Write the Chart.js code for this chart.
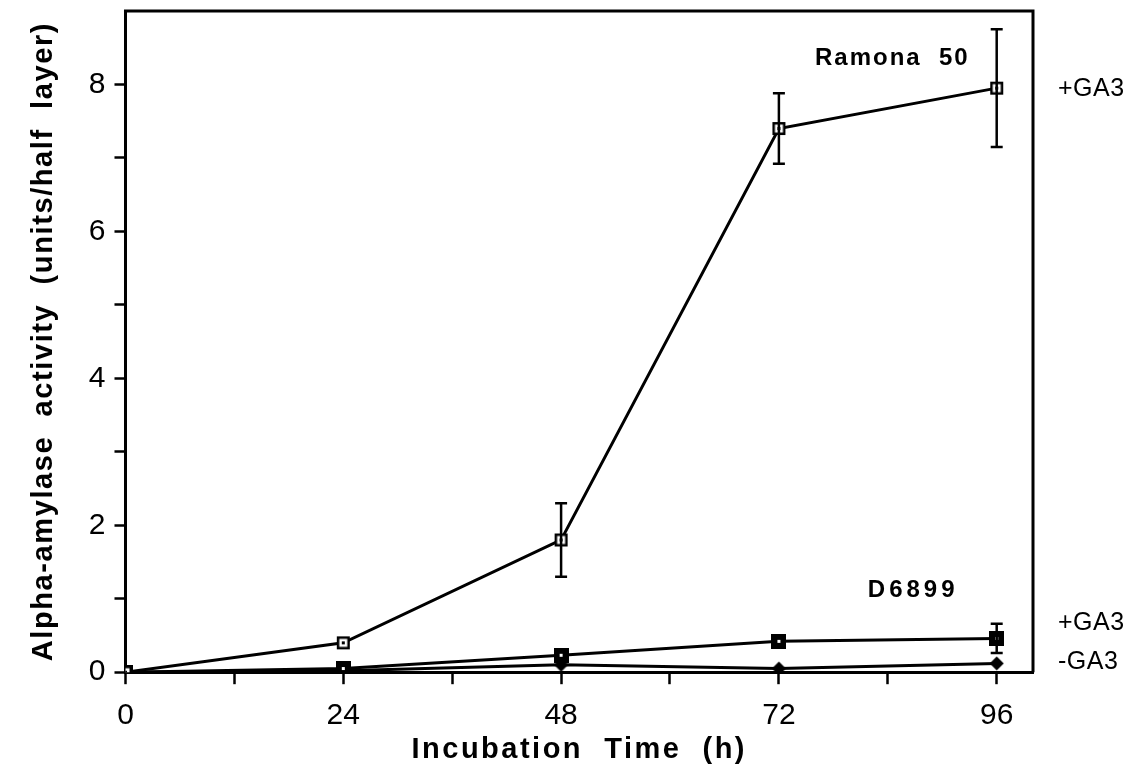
<!DOCTYPE html>
<html>
<head>
<meta charset="utf-8">
<script src="https://cdn.jsdelivr.net/npm/chart.js@4/dist/chart.umd.min.js"></script>
<style>
html,body{margin:0;padding:0;background:#fff;}
#wrap{width:1131px;height:781px;}
</style>
</head>
<body>
<div id="wrap"><canvas id="amylaseChart" width="1131" height="781"></canvas></div>
<script>
// incubation time (h) and alpha-amylase activity (units/half layer)
var hours = [0, 24, 48, 72, 96];
var ramonaPlus = [0, 0.4, 1.8, 7.4, 7.95];
var ramonaPlusErr = [0, 0, 0.5, 0.48, 0.8];
var d6899Plus = [0, 0.05, 0.23, 0.42, 0.46];
var d6899PlusErr = [0, 0, 0, 0, 0.2];
var d6899Minus = [0, 0.02, 0.1, 0.05, 0.12];
var xTickValues = [0, 12, 24, 36, 48, 60, 72, 84, 96];
var xTickLabels = [0, 24, 48, 72, 96];
var yTickValues = [0, 1, 2, 3, 4, 5, 6, 7, 8];
var yTickLabels = [0, 2, 4, 6, 8];
var cultivarNames = ['Ramona  50', 'D6899'];
var treatmentNames = ['+GA3', '+GA3', '-GA3'];

function makeMarker(kind){
	var c = document.createElement('canvas');
	c.width = 15; c.height = 15;
	var g = c.getContext('2d');
	if(kind == 'open'){
		g.fillStyle = '#fff';
		g.fillRect(1,1,13,13);
		g.strokeStyle = '#000';
		g.lineWidth = 2.5;
		g.strokeRect(2.25,2.25,10.5,10.5);
		g.fillStyle = '#000';
		g.fillRect(6,6,3,3);
	}else if(kind == 'filled'){
		g.fillStyle = '#000';
		g.fillRect(0,0,15,15);
		g.fillStyle = '#fff';
		g.fillRect(6,6,3,3);
	}else{
		g.fillStyle = '#000';
		g.beginPath();
		g.moveTo(7.5,0.5); g.lineTo(14.5,7.5); g.lineTo(7.5,14.5); g.lineTo(0.5,7.5);
		g.closePath();
		g.fill();
	}
	return c;
}

function toPoints(ys){
	var out = [];
	for(var i=0;i<hours.length;i++){
		out.push({x:hours[i], y:ys[i]});
	}
	return out;
}

// error bars, drawn from the same scales as the points
var errorBars = {
	id:'errorBars',
	afterDatasetsDraw:function(chart){
		var ctx = chart.ctx, yS = chart.scales.y;
		var errs = [ramonaPlusErr, d6899PlusErr, null];
		var vals = [ramonaPlus, d6899Plus, null];
		ctx.save();
		ctx.strokeStyle = '#000';
		ctx.lineWidth = 2.5;
		for(var d=0;d<errs.length;d++){
			if(!errs[d]) continue;
			var meta = chart.getDatasetMeta(d);
			for(var i=0;i<errs[d].length;i++){
				if(!errs[d][i]) continue;
				var x = meta.data[i].x;
				var top = yS.getPixelForValue(vals[d][i]+errs[d][i]);
				var bot = yS.getPixelForValue(vals[d][i]-errs[d][i]);
				ctx.beginPath();
				ctx.moveTo(x,top); ctx.lineTo(x,bot);
				ctx.moveTo(x-6,top); ctx.lineTo(x+6,top);
				ctx.moveTo(x-6,bot); ctx.lineTo(x+6,bot);
				ctx.stroke();
			}
		}
		ctx.restore();
	}
};

// top and right sides of the frame, plus the text notes
var frameAndNotes = {
	id:'frameAndNotes',
	beforeDraw:function(chart){
		// letter spacing on the axis titles only
		Object.keys(chart.scales).forEach(function(k){
			var s = chart.scales[k];
			if(s._spaced) return;
			var orig = s.drawTitle;
			var sp = (k == 'x') ? '2.5px' : '1.6px';
			s.drawTitle = function(){
				this.ctx.save();
				this.ctx.letterSpacing = sp;
				orig.apply(this, arguments);
				this.ctx.restore();
			};
			s._spaced = true;
		});
	},
	afterDraw:function(chart){
		var ctx = chart.ctx, a = chart.chartArea;
		var xS = chart.scales.x, yS = chart.scales.y;
		ctx.save();
		ctx.strokeStyle = '#000';
		ctx.lineWidth = 3;
		ctx.beginPath();
		ctx.moveTo(a.left-1.5,a.top);
		ctx.lineTo(a.right,a.top);
		ctx.lineTo(a.right,a.bottom);
		ctx.stroke();

		ctx.fillStyle = '#000';
		ctx.textBaseline = 'middle';
		ctx.textAlign = 'center';
		ctx.font = 'bold 24px "Liberation Sans", Arial, sans-serif';
		ctx.letterSpacing = '2px';
		ctx.fillText(cultivarNames[0], xS.getPixelForValue(84.5), yS.getPixelForValue(8.36));
		ctx.letterSpacing = '4px';
		ctx.fillText(cultivarNames[1], xS.getPixelForValue(86.8), yS.getPixelForValue(1.12));

		ctx.textAlign = 'left';
		ctx.font = '25px "Liberation Sans", Arial, sans-serif';
		ctx.letterSpacing = '0.5px';
		var gy = [7.93, 0.67, 0.14];
		for(var i=0;i<treatmentNames.length;i++){
			ctx.fillText(treatmentNames[i], a.right+25, yS.getPixelForValue(gy[i]));
		}
		ctx.restore();
	}
};

function noEdgePadding(s){
	s.paddingTop = 0; s.paddingBottom = 0;
	s.paddingLeft = 0; s.paddingRight = 0;
}

var tickFont = {family:'"Liberation Sans", Arial, sans-serif', size:30};
var titleFont = {family:'"Liberation Sans", Arial, sans-serif', size:29, weight:'bold'};

var ctx = document.getElementById('amylaseChart').getContext('2d');
var amylaseChart = new Chart(ctx, {
	type:'line',
	data:{
		datasets:[
			{label:'Ramona 50 +GA3', data:toPoints(ramonaPlus), pointStyle:makeMarker('open')},
			{label:'D6899 +GA3', data:toPoints(d6899Plus), pointStyle:makeMarker('filled')},
			{label:'D6899 -GA3', data:toPoints(d6899Minus), pointStyle:makeMarker('diamond')}
		]
	},
	options:{
		responsive:false,
		animation:false,
		layout:{padding:{top:11, right:98, left:0, bottom:0}},
		elements:{
			line:{borderColor:'#000', borderWidth:3, tension:0, fill:false},
			point:{radius:7, borderColor:'#000', backgroundColor:'#000'}
		},
		plugins:{legend:{display:false}, tooltip:{enabled:false}},
		scales:{
			x:{
				type:'linear', min:0, max:100,
				afterBuildTicks:function(s){ s.ticks = xTickValues.map(function(v){ return {value:v}; }); },
				afterFit:noEdgePadding,
				ticks:{autoSkip:false, maxRotation:0, color:'#000', font:tickFont, padding:14,
					callback:function(v){ return xTickLabels.indexOf(v) >= 0 ? String(v) : ''; }},
				grid:{drawOnChartArea:false, drawTicks:true, tickLength:12, tickWidth:2.5, tickColor:'#000'},
				border:{color:'#000', width:3},
				title:{display:true, text:'Incubation  Time  (h)', color:'#000', font:titleFont, padding:{top:-16, bottom:14}}
			},
			y:{
				type:'linear', min:0, max:9,
				afterBuildTicks:function(s){ s.ticks = yTickValues.map(function(v){ return {value:v}; }); },
				afterFit:noEdgePadding,
				ticks:{autoSkip:false, color:'#000', font:tickFont, padding:9,
					callback:function(v){ return yTickLabels.indexOf(v) >= 0 ? String(v) : ''; }},
				grid:{drawOnChartArea:false, drawTicks:true, tickLength:11, tickWidth:2.5, tickColor:'#000'},
				border:{color:'#000', width:3},
				title:{display:true, text:'Alpha-amylase  activity  (units/half  layer)', color:'#000', font:titleFont, padding:{top:27, bottom:18}}
			}
		}
	},
	plugins:[errorBars, frameAndNotes]
});
</script>
</body>
</html>
